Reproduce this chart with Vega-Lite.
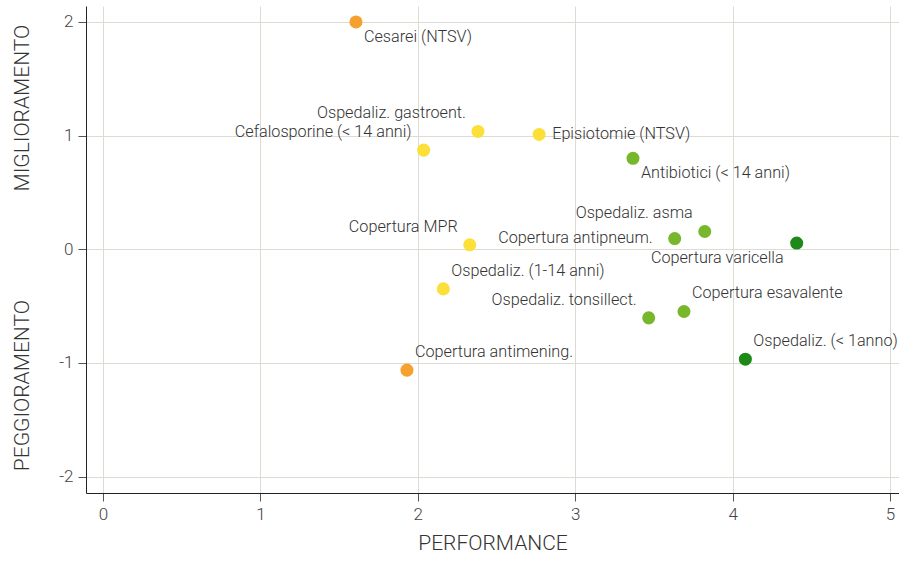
{
  "$schema": "https://vega.github.io/schema/vega-lite/v6.json",
  "width": 813,
  "height": 487,
  "autosize": {"type": "none"},
  "padding": {"left": 86, "top": 6, "right": 0, "bottom": 68},
  "background": "white",
  "config": {
    "view": {"stroke": null},
    "font": "Roboto",
    "axis": {
      "gridColor": "#dedbd3",
      "gridWidth": 1,
      "domainColor": "#222222",
      "domainWidth": 1,
      "tickColor": "#555555",
      "tickSize": 8,
      "labelFontSize": 17,
      "labelFontWeight": 300,
      "labelColor": "#444444",
      "labelFont": "Roboto",
      "labelPadding": 5,
      "titleFont": "Roboto",
      "titleFontWeight": 300,
      "titleColor": "#333333",
      "titleFontSize": 21
    }
  },
  "datasets": {
    "punti": [
      {"indicatore": "Cesarei (NTSV)", "performance": 1.607, "trend": 2.0},
      {"indicatore": "Ospedaliz. gastroent.", "performance": 2.382, "trend": 1.036},
      {"indicatore": "Cefalosporine (< 14 anni)", "performance": 2.037, "trend": 0.872},
      {"indicatore": "Episiotomie (NTSV)", "performance": 2.771, "trend": 1.01},
      {"indicatore": "Antibiotici (< 14 anni)", "performance": 3.367, "trend": 0.8},
      {"indicatore": "Ospedaliz. asma", "performance": 3.823, "trend": 0.156},
      {"indicatore": "Copertura antipneum.", "performance": 3.632, "trend": 0.094},
      {"indicatore": "Copertura varicella", "performance": 4.407, "trend": 0.054},
      {"indicatore": "Copertura MPR", "performance": 2.33, "trend": 0.039},
      {"indicatore": "Ospedaliz. (1-14 anni)", "performance": 2.162, "trend": -0.349},
      {"indicatore": "Copertura antimening.", "performance": 1.931, "trend": -1.064},
      {"indicatore": "Ospedaliz. tonsillect.", "performance": 3.467, "trend": -0.604},
      {"indicatore": "Copertura esavalente", "performance": 3.691, "trend": -0.548},
      {"indicatore": "Ospedaliz. (< 1anno)", "performance": 4.081, "trend": -0.968}
    ],
    "titoli": [
      {"titolo": "MIGLIORAMENTO", "trend": 1.242},
      {"titolo": "PEGGIORAMENTO", "trend": -1.2}
    ]
  },
  "layer": [
    {
      "data": {"name": "punti"},
      "mark": {"type": "circle", "size": 0, "opacity": 0},
      "encoding": {
        "x": {
          "field": "performance", "type": "quantitative",
          "scale": {"domain": [-0.108, 5.057], "nice": false, "zero": false},
          "axis": {"values": [0, 1, 2, 3, 4, 5], "grid": true, "title": "PERFORMANCE", "titlePadding": 10, "labelExpr": "'' + datum.value"}
        },
        "y": {
          "field": "trend", "type": "quantitative",
          "scale": {"domain": [-2.145, 2.14], "nice": false, "zero": false},
          "axis": {"values": [-2, -1, 0, 1, 2], "grid": true, "title": null, "labelExpr": "'' + datum.value"}
        }
      }
    },
    {
      "mark": {"type": "rule", "color": "#111111", "strokeWidth": 1},
      "encoding": {"x": {"datum": 2.5, "type": "quantitative"}}
    },
    {
      "mark": {"type": "rule", "color": "#111111", "strokeWidth": 1},
      "encoding": {"y": {"datum": 0, "type": "quantitative"}}
    },
    {
      "mark": {"type": "rule", "color": "#333333", "strokeWidth": 1},
      "encoding": {"y": {"datum": 2.14, "type": "quantitative"}}
    },
    {
      "data": {"name": "titoli"},
      "mark": {"type": "text", "angle": 270, "align": "center", "baseline": "middle", "fontSize": 21, "fontWeight": 300, "color": "#333333", "dy": -63},
      "encoding": {
        "x": {"datum": -0.108, "type": "quantitative"},
        "y": {"field": "trend", "type": "quantitative"},
        "text": {"field": "titolo"}
      }
    },
    {
      "data": {"name": "punti"},
      "mark": {"type": "circle", "size": 170, "opacity": 1},
      "encoding": {
        "x": {"field": "performance", "type": "quantitative"},
        "y": {"field": "trend", "type": "quantitative"},
        "color": {
          "field": "performance", "type": "quantitative",
          "scale": {"type": "threshold", "domain": [2, 3, 4], "range": ["#f6a02f", "#fddf39", "#78b72c", "#1d8a18"]},
          "legend": null
        }
      }
    },
    {
      "data": {"name": "punti"},
      "transform": [{"filter": {"field": "indicatore", "oneOf": ["Cesarei (NTSV)", "Antibiotici (< 14 anni)"]}}],
      "mark": {"type": "text", "align": "left", "baseline": "middle", "dx": 8, "dy": 15, "fontSize": 16.2, "fontWeight": 300, "color": "#333333"},
      "encoding": {"x": {"field": "performance", "type": "quantitative"}, "y": {"field": "trend", "type": "quantitative"}, "text": {"field": "indicatore"}}
    },
    {
      "data": {"name": "punti"},
      "transform": [{"filter": {"field": "indicatore", "oneOf": ["Ospedaliz. (1-14 anni)", "Copertura antimening.", "Copertura esavalente", "Ospedaliz. (< 1anno)"]}}],
      "mark": {"type": "text", "align": "left", "baseline": "middle", "dx": 8, "dy": -18, "fontSize": 16.2, "fontWeight": 300, "color": "#333333"},
      "encoding": {"x": {"field": "performance", "type": "quantitative"}, "y": {"field": "trend", "type": "quantitative"}, "text": {"field": "indicatore"}}
    },
    {
      "data": {"name": "punti"},
      "transform": [{"filter": {"field": "indicatore", "oneOf": ["Ospedaliz. gastroent.", "Cefalosporine (< 14 anni)", "Ospedaliz. asma", "Copertura MPR", "Ospedaliz. tonsillect."]}}],
      "mark": {"type": "text", "align": "right", "baseline": "middle", "dx": -12, "dy": -18, "fontSize": 16.2, "fontWeight": 300, "color": "#333333"},
      "encoding": {"x": {"field": "performance", "type": "quantitative"}, "y": {"field": "trend", "type": "quantitative"}, "text": {"field": "indicatore"}}
    },
    {
      "data": {"name": "punti"},
      "transform": [{"filter": {"field": "indicatore", "oneOf": ["Episiotomie (NTSV)"]}}],
      "mark": {"type": "text", "align": "left", "baseline": "middle", "dx": 13, "dy": 0, "fontSize": 16.2, "fontWeight": 300, "color": "#333333"},
      "encoding": {"x": {"field": "performance", "type": "quantitative"}, "y": {"field": "trend", "type": "quantitative"}, "text": {"field": "indicatore"}}
    },
    {
      "data": {"name": "punti"},
      "transform": [{"filter": {"field": "indicatore", "oneOf": ["Copertura antipneum."]}}],
      "mark": {"type": "text", "align": "right", "baseline": "middle", "dx": -22, "dy": -1, "fontSize": 16.2, "fontWeight": 300, "color": "#333333"},
      "encoding": {"x": {"field": "performance", "type": "quantitative"}, "y": {"field": "trend", "type": "quantitative"}, "text": {"field": "indicatore"}}
    },
    {
      "data": {"name": "punti"},
      "transform": [{"filter": {"field": "indicatore", "oneOf": ["Copertura varicella"]}}],
      "mark": {"type": "text", "align": "right", "baseline": "middle", "dx": -13, "dy": 15, "fontSize": 16.2, "fontWeight": 300, "color": "#333333"},
      "encoding": {"x": {"field": "performance", "type": "quantitative"}, "y": {"field": "trend", "type": "quantitative"}, "text": {"field": "indicatore"}}
    }
  ]
}
